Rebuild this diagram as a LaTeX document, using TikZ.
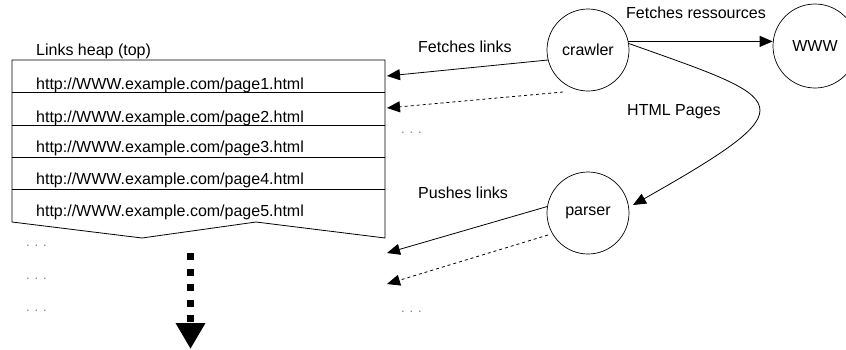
\documentclass[tikz,border=0pt]{standalone}
\usepackage{fontspec}
\setmainfont{Liberation Sans}
\usetikzlibrary{arrows.meta,bending}
\begin{document}
\begin{tikzpicture}[x=1pt,y=-1pt,
  every node/.style={font=\fontsize{16}{19}\selectfont, inner sep=0pt},
  lbl/.style={anchor=base west},
  proc/.style={draw, circle, minimum size=82pt, line width=0.7pt},
  link/.style={line width=0.8pt, -{Triangle[length=13pt,width=11pt]}},
  weak/.style={link, dash pattern=on 3pt off 3pt},
  more/.style={anchor=base west, text=gray, font=\fontsize{13}{15}\selectfont},
  wall/.style={line width=0.8pt},
  flow/.style={line width=7pt, dash pattern=on 7pt off 8.5pt,
    -{Triangle[length=26pt,width=28pt]}}
]
\clip (0,0) rectangle (846,349);

% links heap: stacked rows with a torn lower edge
\draw[wall] (12,60) -- (385,60) -- (385,238) -- (256,222) -- (142,238) -- (12,222) -- cycle;
\foreach \y in {92,125,157,189} \draw[wall] (12,\y) -- (385,\y);
\node[lbl] (heaptitle) at (36,55) {Links heap (top)};
\node[lbl] (url1) at (36,89) {http://WWW.example.com/page1.html};
\node[lbl] (url2) at (36,122) {http://WWW.example.com/page2.html};
\node[lbl] (url3) at (36,152) {http://WWW.example.com/page3.html};
\node[lbl] (url4) at (36,184) {http://WWW.example.com/page4.html};
\node[lbl] (url5) at (36,216) {http://WWW.example.com/page5.html};

% continuation marks
\node[more] (moreA) at (26,246) {. . .};
\node[more] (moreB) at (26,279) {. . .};
\node[more] (moreC) at (26,311) {. . .};
\node[more] (moreD) at (401,133) {. . .};
\node[more] (moreE) at (401,312) {. . .};

% processes
\node[proc] (crawler) at (588,50) {crawler};
\node[proc, minimum size=84pt] (www) at (815,46) {WWW};
\node[proc] (parser) at (588,213) {parser};

% edge labels
\node[lbl] (fetchres) at (626,18) {Fetches ressources};
\node[lbl] (fetchlinks) at (418,52) {Fetches links};
\node[lbl] (pages) at (627,115) {HTML Pages};
\node[lbl] (pushlinks) at (418,198) {Pushes links};

% connector end points
\coordinate (slot1) at (387,76);
\coordinate (slot2) at (387,108);
\coordinate (tail1) at (387,253);
\coordinate (tail2) at (387,284);
\coordinate (crawlerpeek) at (563,92);
\coordinate (parserpeek) at (548,235);
\coordinate (parserin) at (633,205);
\coordinate (heapout) at (190.5,253);
\coordinate (heapnext) at (190.5,349);

% connectors
\draw[link] (crawler.194) -- (slot1);
\draw[weak] (crawlerpeek) -- (slot2);
\draw[link] (crawler.12) -- (crawler.12 -| www.west);
\draw[link] (crawler.9) .. controls (792,101.5) and (813.5,103.6) .. (parserin);
\draw[link] (parser.171) -- (tail1);
\draw[weak] (parserpeek) -- (tail2);
\draw[flow] (heapout) -- (heapnext);
\end{tikzpicture}
\end{document}
